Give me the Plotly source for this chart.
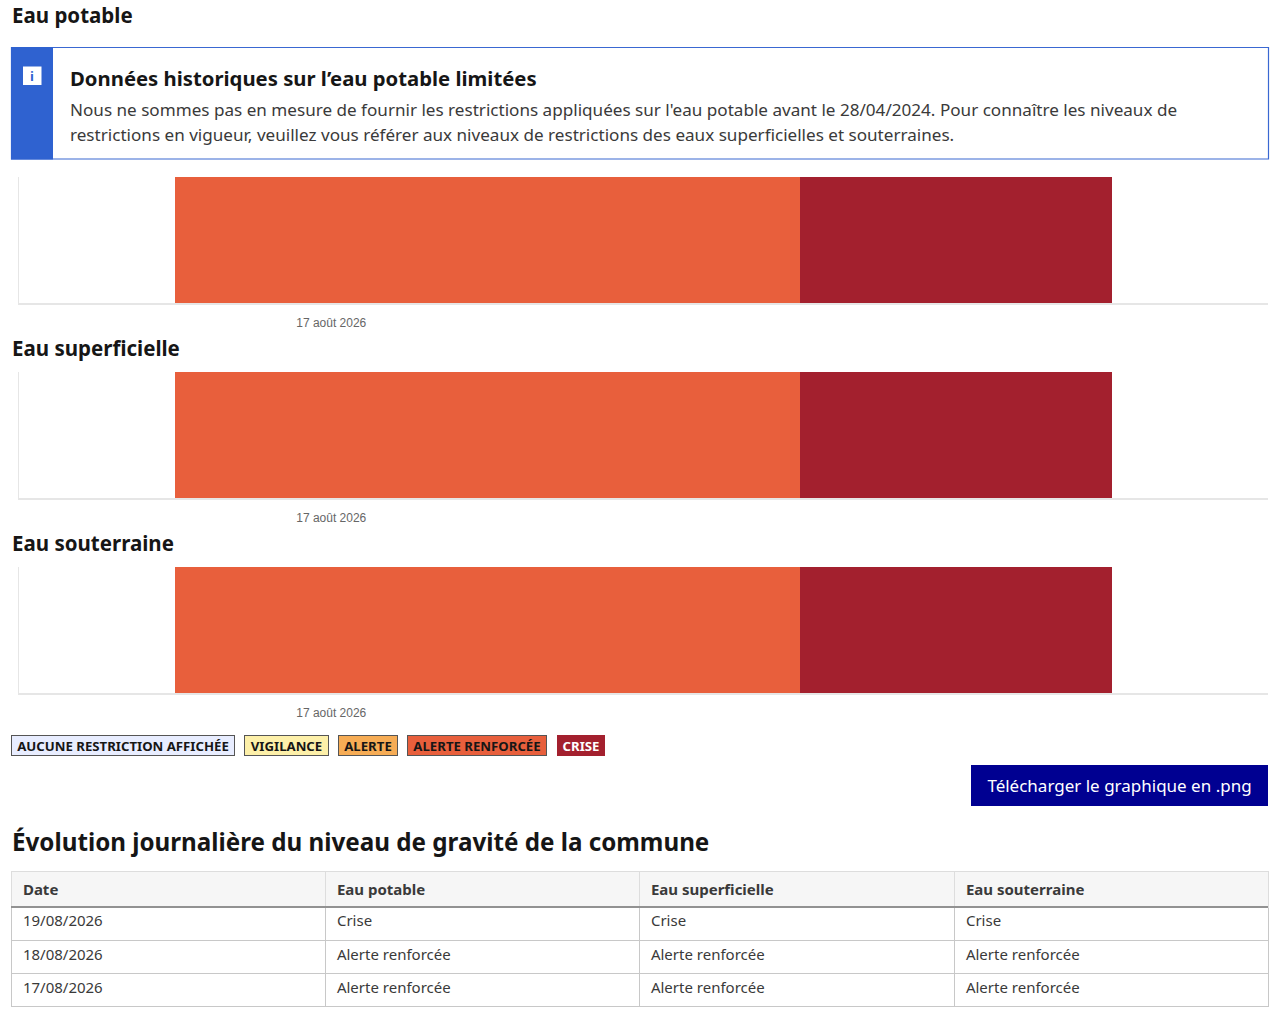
import plotly.graph_objects as go

W, H = 1280, 1014
FONT = "Noto Sans"
TICKFONT = "Liberation Sans"

# ---------------- data ----------------
dates = ["2026-08-17", "2026-08-18", "2026-08-19"]
eau_potable = ["Alerte renforcée", "Alerte renforcée", "Crise"]
eau_superficielle = ["Alerte renforcée", "Alerte renforcée", "Crise"]
eau_souterraine = ["Alerte renforcée", "Alerte renforcée", "Crise"]
section_titles = ["Eau potable", "Eau superficielle", "Eau souterraine"]
x_range = ["2026-08-16 12:00", "2026-08-20 12:00"]
tick_vals = ["2026-08-17 12:00"]
tick_text = ["17 août 2026"]

legend_labels = ["AUCUNE RESTRICTION AFFICHÉE", "VIGILANCE", "ALERTE", "ALERTE RENFORCÉE", "CRISE"]
level_names = ["Aucune restriction affichée", "Vigilance", "Alerte", "Alerte renforcée", "Crise"]
level_colors = ["#e8edff", "#fdf0a9", "#f6ac55", "#e85f3c", "#a3202e"]

table_header = ["Date", "Eau potable", "Eau superficielle", "Eau souterraine"]
table_dates = ["19/08/2026", "18/08/2026", "17/08/2026"]
table_potable = ["Crise", "Alerte renforcée", "Alerte renforcée"]
table_superficielle = ["Crise", "Alerte renforcée", "Alerte renforcée"]
table_souterraine = ["Crise", "Alerte renforcée", "Alerte renforcée"]

color_of = dict(zip(level_names, level_colors))
DAY_MS = 86400000
PAD = "\u00a0"


def px(x):
    return x / W


def py(y):
    return 1 - y / H


fig = go.Figure()

series = [eau_potable, eau_superficielle, eau_souterraine]
plot_tops = [177, 372, 567]
plot_h = 126
for i, (vals, top) in enumerate(zip(series, plot_tops)):
    ax = "" if i == 0 else str(i + 1)
    for d, v in zip(dates, vals):
        fig.add_trace(go.Bar(
            orientation="h", base=[d], x=[DAY_MS], y=[0], width=1,
            marker=dict(color=color_of[v], line=dict(width=0)),
            xaxis="x" + ax, yaxis="y" + ax, showlegend=False,
            hovertemplate=d + " : " + v + "<extra></extra>",
        ))
    fig.layout["xaxis" + ax] = dict(
        type="date", range=x_range, domain=[px(19), px(1268)],
        anchor="y" + ax, showgrid=False, zeroline=False,
        showline=True, linecolor="#e6e6e6", linewidth=2,
        tickvals=tick_vals, ticktext=tick_text, ticks="",
        tickfont=dict(family=TICKFONT, size=12, color="#666666"),
        ticklabelstandoff=8, fixedrange=True,
    )
    fig.layout["yaxis" + ax] = dict(
        range=[-0.5, 0.5], domain=[py(top + plot_h), py(top)],
        anchor="x" + ax, showgrid=False, zeroline=False,
        showticklabels=False, showline=True, linecolor="#e6e6e6",
        linewidth=1, fixedrange=True,
    )

annotations = []
shapes = []

# section titles
for t, y in zip(section_titles, [15, 348, 543]):
    annotations.append(dict(
        text="<b>" + t + "</b>", x=px(10), y=py(y), xref="paper", yref="paper",
        xanchor="left", yanchor="middle", showarrow=False,
        font=dict(family=FONT, size=20.5, color="#161616"),
    ))

# info box
shapes.append(dict(type="rect", xref="paper", yref="paper",
                   x0=px(11.5), x1=px(1268.5), y0=py(159), y1=py(47.5),
                   line=dict(color="#3a68d2", width=1.2), fillcolor="white"))
shapes.append(dict(type="rect", xref="paper", yref="paper",
                   x0=px(11), x1=px(53), y0=py(159.5), y1=py(47),
                   line=dict(width=0), fillcolor="#2f62d0"))
shapes.append(dict(type="rect", xref="paper", yref="paper",
                   x0=px(23), x1=px(41.5), y0=py(85), y1=py(66.5),
                   line=dict(width=0), fillcolor="white"))
annotations.append(dict(
    text="<b>i</b>", x=px(32.3), y=py(76), xref="paper", yref="paper",
    xanchor="center", yanchor="middle", showarrow=False,
    font=dict(family=FONT, size=13, color="#2f62d0"),
))
annotations.append(dict(
    text="<b>Données historiques sur l’eau potable limitées</b>",
    x=px(68), y=py(78), xref="paper", yref="paper",
    xanchor="left", yanchor="middle", showarrow=False,
    font=dict(family=FONT, size=20.3, color="#161616"),
))
for line, y in zip([
    "Nous ne sommes pas en mesure de fournir les restrictions appliquées sur l'eau potable avant le 28/04/2024. Pour connaître les niveaux de",
    "restrictions en vigueur, veuillez vous référer aux niveaux de restrictions des eaux superficielles et souterraines.",
], [109, 134]):
    annotations.append(dict(
        text=line, x=px(68), y=py(y), xref="paper", yref="paper",
        xanchor="left", yanchor="middle", showarrow=False,
        font=dict(family=FONT, size=17.1, color="#3a3a3a"),
    ))

# legend badges
badge_x = [(11, 235), (244, 329), (338, 398), (407, 547), (557, 605)]
for (x0, x1), lab, col in zip(badge_x, legend_labels, level_colors):
    is_dark = col == "#a3202e"
    annotations.append(dict(
        text="<b>" + lab + "</b>", x=px((x0 + x1) / 2), y=py(745.5),
        xref="paper", yref="paper", xanchor="center", yanchor="middle",
        showarrow=False, width=x1 - x0 - 2, height=19,
        bgcolor=col, bordercolor=col if is_dark else "#555555",
        borderwidth=1, borderpad=0,
        font=dict(family=FONT, size=13.2, color="white" if is_dark else "#161616"),
    ))

# download button
annotations.append(dict(
    text="Télécharger le graphique en .png", x=px(1119.5), y=py(785.5),
    xref="paper", yref="paper", xanchor="center", yanchor="middle",
    showarrow=False, width=297, height=41, bgcolor="#000091",
    borderpad=0, borderwidth=0,
    font=dict(family=FONT, size=17, color="white"),
))

# table title
annotations.append(dict(
    text="<b>Évolution journalière du niveau de gravité de la commune</b>",
    x=px(10), y=py(841), xref="paper", yref="paper",
    xanchor="left", yanchor="middle", showarrow=False,
    font=dict(family=FONT, size=24.2, color="#161616"),
))

# table
fig.add_trace(go.Table(
    domain=dict(x=[px(11), px(1268)], y=[py(1012), py(871)]),
    columnwidth=[314, 314, 315, 314],
    header=dict(
        values=["<b>" + PAD + h + "</b>" for h in table_header],
        fill_color="#f6f6f6", align="left", height=32,
        line=dict(color="#dddddd", width=1),
        font=dict(family=FONT, size=15, color="#3a3a3a"),
    ),
    cells=dict(
        values=[[PAD + v for v in col] for col in
                [table_dates, table_potable, table_superficielle, table_souterraine]],
        fill_color="white", align="left", height=33.3,
        line=dict(color="#c8c8c8", width=1),
        font=dict(family=FONT, size=15, color="#3a3a3a"),
    ),
))
shapes.append(dict(type="line", xref="paper", yref="paper",
                   x0=px(11), x1=px(1268), y0=py(907), y1=py(907),
                   line=dict(color="#929292", width=2)))

fig.update_layout(
    width=W, height=H, margin=dict(l=0, r=0, t=0, b=0),
    paper_bgcolor="white", plot_bgcolor="white",
    barmode="overlay", bargap=0,
    annotations=annotations, shapes=shapes, showlegend=False,
)

fig.write_html(
    "out.html", config={"displayModeBar": False},
    post_script="document.body.style.margin='0';document.body.style.overflow='hidden';",
)
